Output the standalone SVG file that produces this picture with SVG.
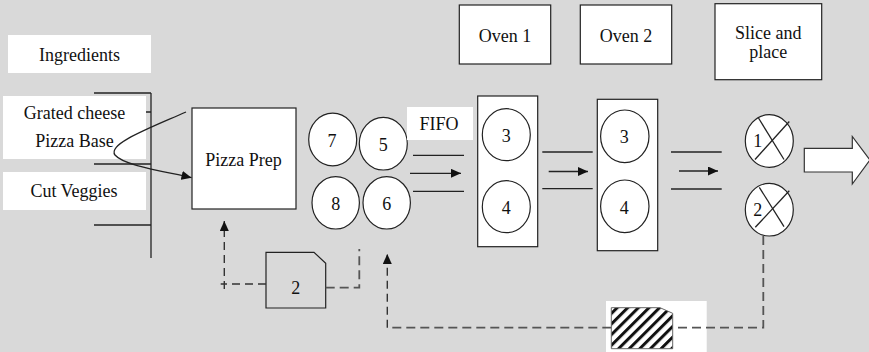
<svg xmlns="http://www.w3.org/2000/svg" width="869" height="352" viewBox="0 0 869 352">
  <defs>
    <style>
      text { font-family: "Liberation Serif", "Times New Roman", serif; font-size: 18px; fill: #111; text-anchor: middle; }
      .box { fill: #fff; stroke: #222; stroke-width: 1.2; }
      .plain { fill: #fff; stroke: none; }
      .disc { fill: #fff; stroke: #222; stroke-width: 1.2; }
      .ln { stroke: #222; stroke-width: 1.3; fill: none; }
      .dash { stroke: #333; stroke-width: 1.4; fill: none; stroke-dasharray: 8 5; }
      .dashg { stroke: #555; stroke-width: 1.8; fill: none; stroke-dasharray: 9 5; }
    </style>
    <marker id="head" markerUnits="userSpaceOnUse" markerWidth="11" markerHeight="9" refX="10" refY="4.5" orient="auto">
      <path d="M0,0 L10,4.5 L0,9 z" fill="#111"/>
    </marker>
    <pattern id="hatch" patternUnits="userSpaceOnUse" width="7.5" height="7.5" patternTransform="rotate(45)">
      <rect width="7.5" height="7.5" fill="#fff"/>
      <rect width="3" height="7.5" fill="#111"/>
    </pattern>
  </defs>

  <rect width="869" height="352" fill="#d9d9d9"/>

  <!-- ingredient rack -->
  <g id="rack">
    <line class="ln" x1="151" y1="93" x2="151" y2="258"/>
    <line class="ln" x1="94" y1="93" x2="151" y2="93"/>
    <line class="ln" x1="94" y1="112" x2="151" y2="112"/>
    <line class="ln" x1="94" y1="164" x2="151" y2="164"/>
    <line class="ln" x1="94" y1="225" x2="151" y2="225"/>
  </g>

  <g id="ingredients">
    <rect class="plain" x="8" y="35" width="143" height="38"/>
    <text x="79.5" y="61">Ingredients</text>
  </g>

  <g id="cheese-base">
    <rect class="plain" x="3" y="96" width="143" height="63"/>
    <text x="74.5" y="119">Grated cheese</text>
    <text x="74.5" y="146.5">Pizza Base</text>
  </g>

  <g id="veggies">
    <rect class="plain" x="3" y="172" width="143" height="38"/>
    <text x="74" y="196.5">Cut Veggies</text>
  </g>

  <g id="pizza-prep">
    <rect class="box" x="192" y="108" width="104" height="101"/>
    <text x="243.5" y="166">Pizza Prep</text>
  </g>

  <g id="queue">
    <ellipse class="disc" cx="332.7" cy="139.5" rx="24" ry="26.3"/>
    <text x="332" y="146.5">7</text>
    <ellipse class="disc" cx="383.3" cy="143.7" rx="24" ry="26.3"/>
    <text x="383.3" y="150.5">5</text>
    <ellipse class="disc" cx="335.7" cy="202.8" rx="23.7" ry="26.2"/>
    <text x="335.7" y="210">8</text>
    <ellipse class="disc" cx="386.7" cy="202.8" rx="23.7" ry="26.2"/>
    <text x="386.7" y="210">6</text>
  </g>

  <g id="fifo">
    <rect class="plain" x="407" y="107" width="66" height="33"/>
    <text x="439" y="130">FIFO</text>
  </g>

  <g id="oven1-label">
    <rect class="box" x="459.3" y="5" width="91.4" height="59"/>
    <text x="505" y="42">Oven 1</text>
  </g>

  <g id="oven2-label">
    <rect class="box" x="580.3" y="5" width="91.4" height="59"/>
    <text x="626" y="42">Oven 2</text>
  </g>

  <g id="slice-label">
    <rect class="box" x="715" y="3.7" width="106.7" height="76"/>
    <text x="768.3" y="39">Slice and</text>
    <text x="768.3" y="57.5">place</text>
  </g>

  <g id="oven1">
    <rect class="box" x="477.7" y="96" width="60" height="150.7"/>
    <ellipse class="disc" cx="506.3" cy="134.7" rx="24" ry="26"/>
    <text x="506.3" y="142">3</text>
    <ellipse class="disc" cx="506.3" cy="206.7" rx="24" ry="26"/>
    <text x="506.3" y="213.5">4</text>
  </g>

  <g id="oven2">
    <rect class="box" x="597.3" y="99.3" width="60.4" height="151.4"/>
    <ellipse class="disc" cx="624.8" cy="136.3" rx="24.2" ry="26.3"/>
    <text x="624.3" y="143.3">3</text>
    <ellipse class="disc" cx="624.8" cy="206.3" rx="24.2" ry="26.3"/>
    <text x="624.3" y="214.3">4</text>
  </g>

  <g id="slice1">
    <ellipse class="disc" cx="769.3" cy="141" rx="24" ry="26.3"/>
    <line class="ln" x1="758.5" y1="118" x2="784" y2="159.5"/>
    <line class="ln" x1="755" y1="159.5" x2="789.3" y2="121.5"/>
    <text x="757.7" y="146.5">1</text>
  </g>

  <g id="slice2">
    <ellipse class="disc" cx="769.3" cy="209.7" rx="24" ry="26.3"/>
    <line class="ln" x1="759.3" y1="187.3" x2="784" y2="226.7"/>
    <line class="ln" x1="755.3" y1="227.3" x2="789.3" y2="190.7"/>
    <text x="757.7" y="215.5">2</text>
  </g>

  <g id="out">
    <path d="M804.3,148.3 L852.3,148.3 L852.3,136.5 L870,160 L852.3,184 L852.3,172 L804.3,172 z" fill="#fff" stroke="#333" stroke-width="1.2"/>
  </g>

  <g id="kanban">
    <path d="M266,252.3 L314,252.3 L325.7,263.3 L325.7,308 L266,308 z" fill="#d9d9d9" stroke="#222" stroke-width="1.2"/>
    <text x="295.7" y="294">2</text>
  </g>

  <g id="signal">
    <rect class="plain" x="606" y="301" width="100.7" height="51"/>
    <path d="M611.3,307.7 L660,307.7 L672.7,313.3 L672.7,348.7 L611.3,348.7 z" fill="url(#hatch)" stroke="#666" stroke-width="1"/>
  </g>

  <!-- flows and signal lines -->
  <g id="connectors">
    <path class="ln" d="M186,112 C150,128 107,144 115,155 C124,166 168,172 191.5,177.7" marker-end="url(#head)"/>

    <line class="ln" x1="413" y1="155.3" x2="464" y2="155.3"/>
    <line class="ln" x1="413" y1="191.3" x2="464" y2="191.3"/>
    <line class="ln" x1="410" y1="173.3" x2="461" y2="173.3" marker-end="url(#head)"/>

    <line class="ln" x1="542.3" y1="152" x2="592.7" y2="152"/>
    <line class="ln" x1="542.3" y1="188.7" x2="592.7" y2="188.7"/>
    <line class="ln" x1="548.7" y1="171.5" x2="588" y2="171.5" marker-end="url(#head)"/>

    <line class="ln" x1="671" y1="152" x2="721.7" y2="152"/>
    <line class="ln" x1="671" y1="189" x2="721.7" y2="189"/>
    <line class="ln" x1="679" y1="171" x2="718" y2="171" marker-end="url(#head)"/>

    <path class="dash" d="M266,284 L220.7,284"/>
    <path class="dash" d="M224.3,289 L224.3,221" marker-end="url(#head)"/>
    <path class="dashg" d="M325.7,287.7 L359.3,287.7 L359.3,249"/>

    <path class="dashg" d="M763.3,236 L763.3,327.7 L672.7,327.7"/>
    <path class="dashg" d="M611.3,327.7 L387.3,327.7"/>
    <path class="dash" d="M387.3,327.7 L387.3,254" marker-end="url(#head)"/>
  </g>
</svg>
